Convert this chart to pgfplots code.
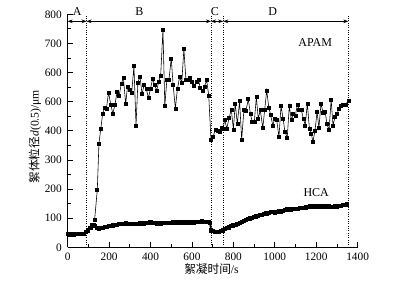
\documentclass[border=0pt]{standalone}
\usepackage{pgfplots}
\pgfplotsset{compat=1.18}
\usepackage{fontspec}
\setmainfont{Liberation Serif}
\newfontfamily\cjk{Noto Sans CJK SC}
\usetikzlibrary{arrows.meta}
\begin{document}
\begin{tikzpicture}
\useasboundingbox (-40.6pt,-22.6pt) rectangle (201.2pt,148.4pt);
\begin{axis}[
  scale only axis, width=174pt, height=139.8pt,
  xmin=0, xmax=1400, ymin=0, ymax=800,
  axis x line=bottom, axis y line=left,
  axis line style={-, line width=0.6pt},
  tick align=inside, major tick length=3pt, minor tick length=1.8pt,
  tick style={line width=0.5pt, black},
  xtick={0,200,...,1400}, ytick={0,100,...,800},
  yticklabels={0,100,200,300,400,600,600,700,800},
  minor x tick num=1, minor y tick num=1,
  tick label style={font=\fontsize{6.8}{8}\selectfont},
  /pgf/number format/1000 sep={},
  /pgf/number format/assume math mode=true,
  xlabel={{\cjk 絮凝时间}/s},
  ylabel={{\cjk 絮体粒径}\textit{d}(0.5)/μm},
  xlabel style={at={(axis description cs:0.496,-0.095)}, anchor=center, font=\fontsize{7}{8}\selectfont},
  ylabel style={at={(axis description cs:-0.113,0.475)}, anchor=center, rotate=0, font=\fontsize{7}{8}\selectfont},
  clip=false,
]
\addplot[black, line width=0.35pt, mark=square*, mark size=0.9pt, mark options={solid, fill=black}] coordinates {
(130,94)(143,197)(151,357)(160,408)(169,459)(178,480)(187,474)(197,532)(208,491)(218,459)
(228,489)(239,535)(249,522)(259,562)(269,582)(280,493)(289,552)(299,540)(309,531)(320,622)
(330,419)(339,565)(349,587)(359,527)(369,557)(380,543)(390,513)(400,545)(410,578)(420,557)
(430,539)(439,568)(449,590)(460,747)(469,486)(479,576)(489,576)(500,648)(509,558)(520,477)
(530,545)(541,585)(551,566)(561,681)(571,576)(580,576)(591,582)(601,568)(611,553)(621,570)
(631,575)(640,549)(650,539)(660,551)(671,574)(681,522)(692,368)(702,380)(713,405)(723,400)
(732,395)(742,411)(751,408)(758,439)(768,408)(780,446)(790,473)(800,405)(809,494)(819,423)
(830,503)(840,370)(851,473)(861,470)(872,509)(882,459)(891,431)(901,431)(911,516)(920,442)
(930,471)(942,410)(951,471)(961,539)(971,480)(980,454)(990,419)(1000,442)(1009,439)(1020,379)
(1030,485)(1040,442)(1049,396)(1060,377)(1070,485)(1080,437)(1089,457)(1099,451)(1109,491)(1118,471)
(1128,471)(1138,442)(1147,419)(1157,494)(1167,408)(1176,391)(1184,362)(1194,400)(1204,465)(1213,411)
(1223,494)(1233,462)(1243,465)(1252,423)(1262,402)(1272,507)(1281,419)(1291,448)(1301,459)(1310,477)
(1320,485)(1330,488)(1342,491)(1355,503)
};
\addplot[black, line width=1.1pt, mark=square*, mark size=0.7pt, mark options={solid, fill=black}] coordinates {
(0,45)(10,44)(20,45)(30,44)(40,45)(50,45)(60,46)(70,45)(80,47)(90,52)(100,58)(110,66)(120,76)(125,78)
(130,72)(140,66)(150,63)(160,65)(170,67)(180,69)(190,70)(200,72)(210,73)(220,75)(230,76)(240,78)
(250,79)(260,80)(270,81)(280,82)(290,80)(300,79)(310,80)(320,79)(330,80)(340,81)(350,82)(360,83)
(370,82)(380,83)(390,84)(400,85)(410,84)(420,83)(430,82)(440,83)(450,82)(460,83)(470,84)(480,83)
(490,84)(500,84)(510,85)(520,84)(530,85)(540,84)(550,85)(560,86)(570,85)(580,84)(590,85)(600,86)
(610,85)(620,86)(630,87)(640,88)(650,89)(660,88)(670,87)(680,86)(688,84)(692,58)(700,56)(710,54)
(720,52)(730,53)(740,55)(750,58)(760,62)(770,65)(780,68)(790,72)(800,75)(810,78)(820,81)(830,84)
(840,87)(850,90)(860,93)(870,96)(880,99)(890,101)(900,104)(910,106)(920,108)(930,110)(940,112)
(950,114)(960,116)(970,118)(980,120)(990,121)(1000,119)(1010,121)(1020,124)(1030,123)(1040,126)
(1050,128)(1060,131)(1070,128)(1080,130)(1090,132)(1100,133)(1110,131)(1120,134)(1130,136)(1140,135)
(1150,137)(1160,139)(1170,140)(1180,141)(1190,139)(1200,142)(1210,140)(1220,141)(1230,139)(1240,142)
(1250,138)(1260,140)(1270,138)(1280,139)(1290,141)(1300,140)(1310,142)(1320,143)(1330,145)(1340,146)
(1350,147)
};
% region separators
\draw[densely dotted, line width=0.4pt] (axis cs:91,0) -- (axis cs:91,795);
\draw[densely dotted, line width=0.4pt] (axis cs:692,0) -- (axis cs:692,795);
\draw[densely dotted, line width=0.4pt] (axis cs:751,0) -- (axis cs:751,795);
\draw[densely dotted, line width=0.4pt] (axis cs:1355,0) -- (axis cs:1355,795);
\tikzset{reg/.style={{Stealth[length=3pt,width=2.2pt]}-{Stealth[length=3pt,width=2.2pt]}, line width=0.4pt}}
\draw[reg] (axis cs:0,776) -- (axis cs:91,776);
\draw[reg] (axis cs:91,776) -- (axis cs:692,776);
\draw[reg] (axis cs:692,776) -- (axis cs:751,776);
\draw[reg] (axis cs:751,776) -- (axis cs:1355,776);
\node[font=\fontsize{7.2}{8}\selectfont] at (axis cs:46,808) {A};
\node[font=\fontsize{7.2}{8}\selectfont] at (axis cs:346,808) {B};
\node[font=\fontsize{7.2}{8}\selectfont] at (axis cs:711,808) {C};
\node[font=\fontsize{7.2}{8}\selectfont] at (axis cs:990,808) {D};
\node[font=\fontsize{7.2}{8}\selectfont] at (axis cs:1195,703) {APAM};
\node[font=\fontsize{7.2}{8}\selectfont] at (axis cs:1200,187) {HCA};
\end{axis}
\end{tikzpicture}
\end{document}
